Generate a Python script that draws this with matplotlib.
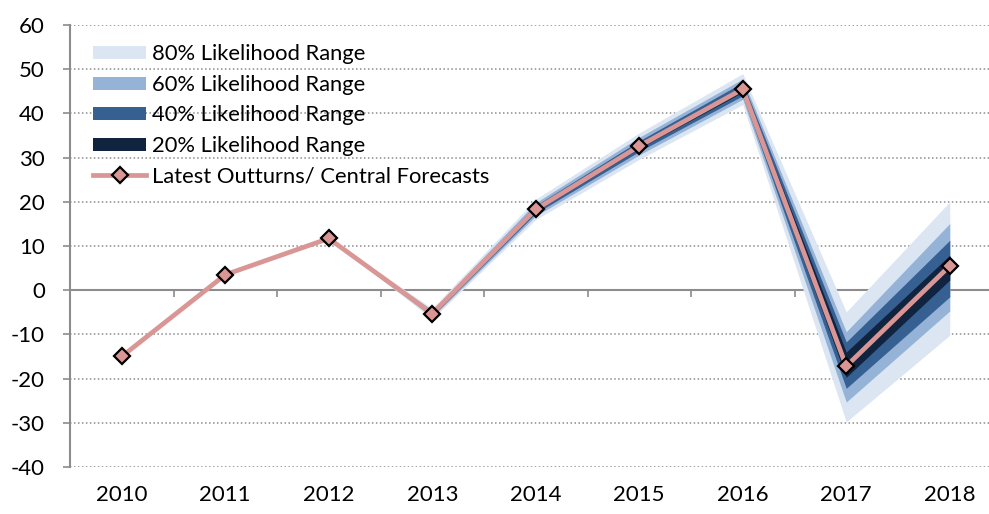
import matplotlib
matplotlib.use("Agg")
import matplotlib.pyplot as plt
from matplotlib.patches import Patch
from matplotlib.lines import Line2D

years = ["2010", "2011", "2012", "2013", "2014", "2015", "2016", "2017", "2018"]
central = [-15.0, 3.5, 11.7, -5.3, 18.3, 32.6, 45.5, -17.2, 5.5]

fan_years = ["2012", "2013", "2014", "2015", "2016", "2017", "2018"]
b80_lo = [11.7, -6.5, 16.0, 29.6, 42.0, -29.8, -10.2]
b80_hi = [11.7, -4.1, 20.6, 35.6, 49.0, -4.9, 20.0]
b60_lo = [11.7, -6.1, 16.8, 30.6, 43.2, -25.3, -4.7]
b60_hi = [11.7, -4.5, 19.8, 34.6, 47.8, -9.4, 15.1]
b40_lo = [11.7, -5.8, 17.4, 31.4, 44.0, -22.2, -1.5]
b40_hi = [11.7, -4.8, 19.2, 33.8, 47.0, -11.7, 11.3]
b20_lo = [11.7, -5.5, 17.9, 32.1, 44.8, -19.7, 2.3]
b20_hi = [11.7, -5.1, 18.7, 33.1, 46.2, -14.0, 7.9]

band_labels = ["80% Likelihood Range", "60% Likelihood Range",
               "40% Likelihood Range", "20% Likelihood Range"]
line_label = "Latest Outturns/ Central Forecasts"
yticks = [-40, -30, -20, -10, 0, 10, 20, 30, 40, 50, 60]

c80, c60, c40, c20 = "#DCE6F2", "#95B3D7", "#366092", "#10243F"
cline = "#D99694"
gray = "#8C8C8C"

plt.rcParams['font.family'] = ['Lato', 'DejaVu Sans']

fig = plt.figure(figsize=(9.89, 5.14), dpi=100)
ax = fig.add_axes([70/989, 1-467/514, 1-70/989, (467-25)/514])

xs = list(range(len(years)))
fx = [years.index(y) for y in fan_years]

for lo, hi, c in [(b80_lo, b80_hi, c80), (b60_lo, b60_hi, c60),
                  (b40_lo, b40_hi, c40), (b20_lo, b20_hi, c20)]:
    ax.fill_between(fx, lo, hi, color=c, lw=0, zorder=2)

ax.plot(xs, central, color=cline, lw=3.4, marker='D', markersize=8,
        markerfacecolor=cline, markeredgecolor='black', markeredgewidth=1.6, zorder=5)

ax.set_ylim(-40, 60)
ax.set_xlim(-0.5, -0.5 + 919/103.5)
ax.set_yticks(yticks)
ax.set_yticklabels([str(v) for v in yticks], fontsize=16)
ax.tick_params(axis='y', length=5, width=1.2, color=gray, pad=13)

for v in yticks:
    if v != 0:
        ax.axhline(v, color=gray, lw=1.1, ls=(0, (1, 1.6)), zorder=1)

for s in ['top', 'right']:
    ax.spines[s].set_visible(False)
ax.spines['left'].set_color(gray)
ax.spines['left'].set_linewidth(1.5)
ax.spines['bottom'].set_visible(False)

ax.set_xticks(xs)
ax.set_xticklabels(years, fontsize=16)
ax.tick_params(axis='x', length=0, pad=13)

sec = ax.secondary_xaxis(0.4)
sec.set_xticks([i + 0.5 for i in xs[:-1]])
sec.set_xticklabels([])
sec.tick_params(axis='x', length=5, width=1.2, color=gray, direction='out')
sec.spines['bottom'].set_color(gray)
sec.spines['bottom'].set_linewidth(1.5)

handles = [Patch(facecolor=c, edgecolor='none', label=l)
           for c, l in zip([c80, c60, c40, c20], band_labels)]
handles.append(Line2D([0], [0], color=cline, lw=3.4, marker='D', markersize=8,
                      markerfacecolor=cline, markeredgecolor='black',
                      markeredgewidth=1.6, label=line_label))
leg = ax.legend(handles=handles, loc='upper left', bbox_to_anchor=(0.016, 0.976),
                frameon=False, fontsize=15.8, handlelength=2.4, handleheight=0.55,
                handletextpad=0.27, labelspacing=0.48, borderaxespad=0)

fig.savefig("out.png", dpi=100)
